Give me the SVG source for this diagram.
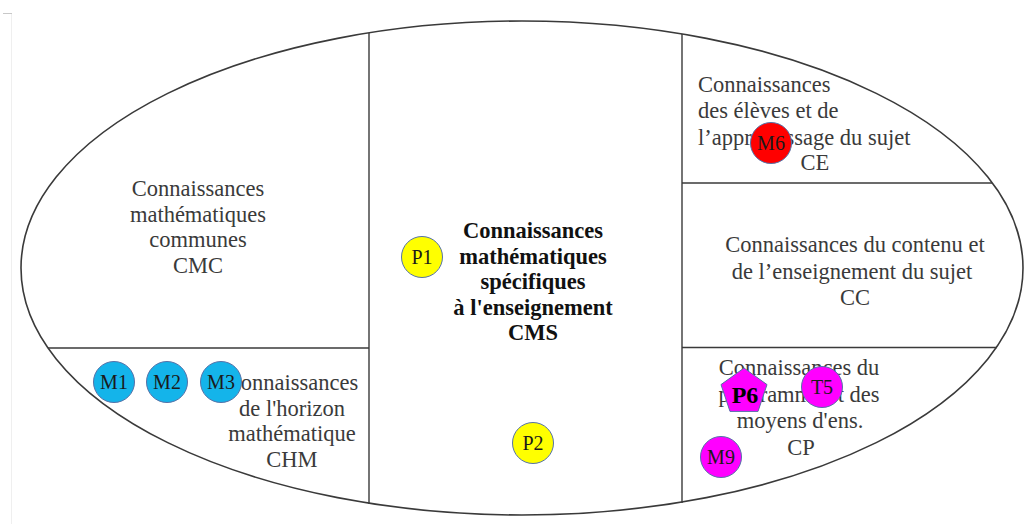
<svg xmlns="http://www.w3.org/2000/svg" width="1024" height="524" viewBox="0 0 1024 524">
  <style>
    .frame { fill: none; stroke: #3a3a3a; stroke-width: 1.6; }
    .div { stroke: #3a3a3a; stroke-width: 1.4; fill: none; }
    .lbl { font-family: "Liberation Serif", "Times New Roman", serif; font-size: 22.5px; fill: #3a3a3a; }
    .lbl-c { text-anchor: middle; }
    .bold { font-weight: bold; fill: #111; }
    .tag { font-family: "Liberation Serif", "Times New Roman", serif; font-size: 20px; fill: #1a1a1a; text-anchor: middle; }
    .mk { stroke: #5572a8; stroke-width: 1; }
    .blue { fill: #14b4ea; }
    .yellow { fill: #ffff00; }
    .red { fill: #ff0000; }
    .magenta { fill: #ff00ff; }
  </style>

  <rect width="1024" height="524" fill="#ffffff"/>

  <!-- page margin mark -->
  <line x1="11.5" y1="13" x2="11.5" y2="524" stroke="#efefef" stroke-width="1"/>
  <line x1="3" y1="13.5" x2="12" y2="13.5" stroke="#c8c8c8" stroke-width="1"/>

  <!-- outer ellipse and partitions -->
  <g id="frame">
    <ellipse class="frame" cx="522" cy="268" rx="501" ry="247"/>
    <line class="div" x1="369" y1="33" x2="369" y2="504"/>
    <line class="div" x1="682" y1="34" x2="682" y2="503"/>
    <line class="div" x1="48" y1="348" x2="369" y2="348"/>
    <line class="div" x1="682" y1="183" x2="992" y2="183"/>
    <line class="div" x1="682" y1="347.5" x2="997" y2="347.5"/>
  </g>

  <!-- domain labels -->
  <g id="cmc">
    <text class="lbl lbl-c" x="198" y="196">Connaissances</text>
    <text class="lbl lbl-c" x="198" y="222">mathématiques</text>
    <text class="lbl lbl-c" x="198" y="247">communes</text>
    <text class="lbl lbl-c" x="198" y="273">CMC</text>
  </g>

  <g id="chm">
    <text class="lbl lbl-c" x="292" y="390">Connaissances</text>
    <text class="lbl lbl-c" x="292" y="416">de l'horizon</text>
    <text class="lbl lbl-c" x="292" y="441">mathématique</text>
    <text class="lbl lbl-c" x="292" y="467">CHM</text>
  </g>

  <g id="cms">
    <text class="lbl lbl-c bold" x="533" y="238">Connaissances</text>
    <text class="lbl lbl-c bold" x="533" y="264">mathématiques</text>
    <text class="lbl lbl-c bold" x="533" y="289">spécifiques</text>
    <text class="lbl lbl-c bold" x="533" y="315">à l'enseignement</text>
    <text class="lbl lbl-c bold" x="533" y="340">CMS</text>
  </g>

  <g id="ce">
    <text class="lbl" x="698" y="92">Connaissances</text>
    <text class="lbl" x="698" y="118">des élèves et de</text>
    <text class="lbl" x="698" y="145">l’apprentissage du sujet</text>
    <text class="lbl lbl-c" x="815" y="170">CE</text>
  </g>

  <g id="cc">
    <text class="lbl lbl-c" x="855" y="252">Connaissances du contenu et</text>
    <text class="lbl lbl-c" x="852" y="279">de l’enseignement du sujet</text>
    <text class="lbl lbl-c" x="855" y="305">CC</text>
  </g>

  <g id="cp">
    <text class="lbl lbl-c" x="799" y="375">Connaissances du</text>
    <text class="lbl lbl-c" x="799" y="402">programme et des</text>
    <text class="lbl lbl-c" x="800" y="428">moyens d'ens.</text>
    <text class="lbl lbl-c" x="801" y="455">CP</text>
  </g>

  <!-- markers -->
  <g id="m1"><circle class="mk blue" cx="114" cy="382" r="20.5"/><text class="tag" x="114" y="389">M1</text></g>
  <g id="m2"><circle class="mk blue" cx="167" cy="382" r="20.5"/><text class="tag" x="167" y="389">M2</text></g>
  <g id="m3"><circle class="mk blue" cx="221" cy="382" r="20.5"/><text class="tag" x="221" y="389">M3</text></g>
  <g id="p1"><circle class="mk yellow" cx="422" cy="257" r="20.5"/><text class="tag" x="422" y="264">P1</text></g>
  <g id="p2"><circle class="mk yellow" cx="533" cy="443" r="20.5"/><text class="tag" x="533" y="450">P2</text></g>
  <g id="m6"><circle class="mk red" cx="771" cy="143" r="20.5"/><text class="tag" x="771" y="150">M6</text></g>
  <g id="t5"><circle class="mk magenta" cx="822" cy="387" r="20.5"/><text class="tag" x="822" y="394">T5</text></g>
  <g id="m9"><circle class="mk magenta" cx="721" cy="457" r="20.5"/><text class="tag" x="721" y="464">M9</text></g>
  <g id="p6">
    <polygon class="mk magenta" points="744,368 767,384.6 758,411.4 730,411.4 721,384.6"/>
    <text class="tag" x="745" y="403" style="font-weight:bold;font-size:24px;fill:#000">P6</text>
  </g>
</svg>
